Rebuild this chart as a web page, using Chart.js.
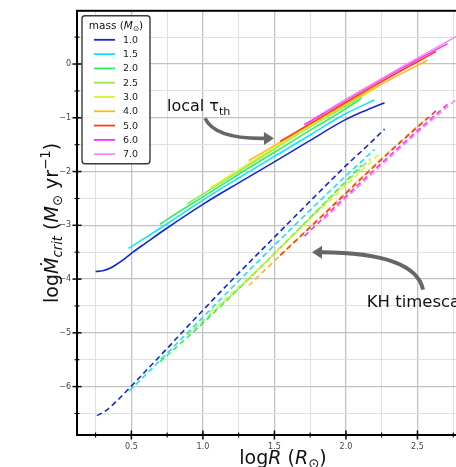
<!DOCTYPE html>
<html><head><meta charset="utf-8">
<script src="https://cdn.jsdelivr.net/npm/chart.js@4/dist/chart.umd.min.js"></script>
<style>html,body{margin:0;padding:0;overflow:hidden;background:#fff;width:456px;height:467px}canvas{display:block}</style>
</head><body>
<canvas id="c" width="500" height="467" style="width:500px;height:467px"></canvas>
<script>
// ---------------- data ----------------
const masses = ['1.0','1.5','2.0','2.5','3.0','4.0','5.0','6.0','7.0'];
const colors = ['#1428d0','#10e6f6','#2ef25a','#96e650','#dcf528','#ffb81e','#ff3c14','#ff2dff','#f58cf0'];

// local thermal timescale (solid lines): log R and log Mdot_crit
const thLogR_1_0 = [0.25,0.30,0.35,0.40,0.45,0.50,0.60,0.75,1.00,1.25,1.50,1.75,2.00,2.15,2.27];
const thLogM_1_0 = [-3.86,-3.845,-3.80,-3.72,-3.63,-3.52,-3.33,-3.05,-2.61,-2.21,-1.82,-1.42,-1.03,-0.85,-0.72];
const thLogR_1_5 = [0.48,0.60,0.75,1.00,1.25,1.50,1.75,2.00,2.20];
const thLogM_1_5 = [-3.43,-3.23,-2.97,-2.53,-2.12,-1.72,-1.32,-0.92,-0.67];
const thLogR_2_0 = [0.70,0.85,1.00,1.25,1.50,1.75,2.00,2.11];
const thLogM_2_0 = [-2.98,-2.72,-2.47,-2.05,-1.64,-1.23,-0.83,-0.63];
const thLogR_2_5 = [0.89,1.00,1.25,1.50,1.75,2.00,2.17];
const thLogM_2_5 = [-2.60,-2.42,-2.00,-1.58,-1.17,-0.78,-0.50];
const thLogR_3_0 = [1.05,1.25,1.50,1.75,2.00,2.23];
const thLogM_3_0 = [-2.31,-1.97,-1.55,-1.15,-0.75,-0.42];
const thLogR_4_0 = [1.32,1.60,2.00,2.30,2.57];
const thLogM_4_0 = [-1.80,-1.36,-0.74,-0.30,0.07];
const thLogR_5_0 = [1.54,1.80,2.00,2.30,2.63];
const thLogM_5_0 = [-1.44,-1.03,-0.71,-0.25,0.23];
const thLogR_6_0 = [1.71,2.00,2.30,2.71];
const thLogM_6_0 = [-1.13,-0.67,-0.21,0.38];
const thLogR_7_0 = [1.85,2.10,2.40,2.85];
const thLogM_7_0 = [-0.89,-0.50,-0.04,0.63];

// Kelvin-Helmholtz timescale (dashed lines)
const khLogR_1_0 = [0.26,0.32,0.39,0.46,0.50,0.75,1.00,1.25,1.50,1.75,2.00,2.15,2.27];
const khLogM_1_0 = [-6.54,-6.45,-6.29,-6.10,-5.99,-5.29,-4.58,-3.89,-3.22,-2.55,-1.89,-1.52,-1.21];
const khLogR_1_5 = [0.486,0.75,1.00,1.33,1.63,2.00,2.20];
const khLogM_1_5 = [-6.08,-5.38,-4.71,-3.82,-3.03,-2.08,-1.59];
const khLogR_2_0 = [0.70,1.00,1.40,1.80,2.11];
const khLogM_2_0 = [-5.54,-4.82,-3.79,-2.72,-1.88];
const khLogR_2_5 = [0.89,1.20,1.60,2.00,2.17];
const khLogM_2_5 = [-5.04,-4.30,-3.26,-2.20,-1.77];
const khLogR_3_0 = [1.05,1.40,1.80,2.23];
const khLogM_3_0 = [-4.62,-3.78,-2.76,-1.68];
const khLogR_4_0 = [1.32,1.80,2.20,2.57];
const khLogM_4_0 = [-4.12,-2.90,-1.88,-0.99];
const khLogR_5_0 = [1.54,1.90,2.30,2.63];
const khLogM_5_0 = [-3.56,-2.66,-1.65,-0.87];
const khLogR_6_0 = [1.71,2.10,2.45,2.71];
const khLogM_6_0 = [-3.20,-2.21,-1.36,-0.75];
const khLogR_7_0 = [1.85,2.20,2.55,2.85];
const khLogM_7_0 = [-2.88,-2.00,-1.16,-0.48];

// axes
const xMin = 0.12, xMax = 3.0, yMin = -6.9, yMax = 0.99;
const xTickVals = [0.25,0.5,0.75,1.0,1.25,1.5,1.75,2.0,2.25,2.5,2.75];
const xMajorVals = [0.5,1.0,1.5,2.0,2.5];
const xTickLabels = ['0.5','1.0','1.5','2.0','2.5'];
const yTickVals = [-6.5,-6,-5.5,-5,-4.5,-4,-3.5,-3,-2.5,-2,-1.5,-1,-0.5,0,0.5];
const yMajorVals = [-6,-5,-4,-3,-2,-1,0];
const yTickLabels = ['\u22126','\u22125','\u22124','\u22123','\u22122','\u22121','0'];

// annotations (data coordinates)
const thText = {x:0.749, y:-0.88};
const thArrow = {from:[1.015,-1.01], ctrl:[1.085,-1.40], tip:[1.497,-1.38]};
const khText = {x:2.145, y:-4.51};
const khArrow = {from:[2.539,-4.195], ctrl:[2.483,-3.51], tip:[1.763,-3.50]};

// ---------------- build ----------------
const thR = [thLogR_1_0,thLogR_1_5,thLogR_2_0,thLogR_2_5,thLogR_3_0,thLogR_4_0,thLogR_5_0,thLogR_6_0,thLogR_7_0];
const thM = [thLogM_1_0,thLogM_1_5,thLogM_2_0,thLogM_2_5,thLogM_3_0,thLogM_4_0,thLogM_5_0,thLogM_6_0,thLogM_7_0];
const khR = [khLogR_1_0,khLogR_1_5,khLogR_2_0,khLogR_2_5,khLogR_3_0,khLogR_4_0,khLogR_5_0,khLogR_6_0,khLogR_7_0];
const khM = [khLogM_1_0,khLogM_1_5,khLogM_2_0,khLogM_2_5,khLogM_3_0,khLogM_4_0,khLogM_5_0,khLogM_6_0,khLogM_7_0];

const FONT = "'DejaVu Sans', sans-serif";
const datasets = [];
masses.forEach((m,i)=>{
  datasets.push({label:m+' th', data: thR[i].map((v,j)=>({x:v,y:thM[i][j]})),
    borderColor:colors[i], borderWidth:1.6, pointRadius:0, fill:false,
    cubicInterpolationMode:'monotone', order:(8-i)*2+1});
  datasets.push({label:m+' KH', data: khR[i].map((v,j)=>({x:v,y:khM[i][j]})),
    borderColor:colors[i], borderWidth:1.6, borderDash:[5.5,3.5], pointRadius:0, fill:false,
    cubicInterpolationMode:'monotone', order:(8-i)*2});
});

const near = (a,b)=>Math.abs(a-b)<1e-6;
const isMajor = (arr,v)=>arr.some(a=>near(a,v));

function segFont(st,size){
  const small = (st==='sub'||st==='sup'||st==='isub');
  const it = (st==='i'||st==='isub') ? 'italic ' : '';
  return it + (small? size*0.7 : size) + 'px ' + FONT;
}
function richWidth(ctx,segs,size){let w=0;for(const [t,st] of segs){ctx.font=segFont(st,size);w+=ctx.measureText(t).width;}return w;}
function drawRich(ctx,segs,x,y,size,color){
  ctx.fillStyle=color;ctx.textBaseline='alphabetic';ctx.textAlign='left';
  let cx=x;
  for(const [t,st] of segs){
    ctx.font=segFont(st,size);
    let dy=0;
    if(st==='sub'||st==='isub') dy=size*0.22;
    if(st==='sup') dy=-size*0.42;
    ctx.fillText(t,cx,y+dy);
    cx+=ctx.measureText(t).width;
  }
}
function drawArrow(ctx,x,y,a,lw,color){
  const p0={x:x.getPixelForValue(a.from[0]),y:y.getPixelForValue(a.from[1])};
  const c={x:x.getPixelForValue(a.ctrl[0]),y:y.getPixelForValue(a.ctrl[1])};
  const t={x:x.getPixelForValue(a.tip[0]),y:y.getPixelForValue(a.tip[1])};
  const dx=t.x-c.x, dy=t.y-c.y, L=Math.hypot(dx,dy), ux=dx/L, uy=dy/L;
  const hl=10, hw=6.5;
  const bx=t.x-ux*hl, by=t.y-uy*hl;
  ctx.strokeStyle=color;ctx.lineWidth=lw;ctx.lineCap='butt';
  ctx.beginPath();ctx.moveTo(p0.x,p0.y);ctx.quadraticCurveTo(c.x,c.y,bx+ux*1,by+uy*1);ctx.stroke();
  ctx.fillStyle=color;ctx.beginPath();ctx.moveTo(t.x,t.y);
  ctx.lineTo(bx-uy*hw,by+ux*hw);ctx.lineTo(bx+uy*hw,by-ux*hw);ctx.closePath();ctx.fill();
}

const decor = {
  id:'decor',
  afterDraw(chart){
    const {ctx, chartArea:ca, scales:{x,y}} = chart;
    ctx.save();
    // spines
    ctx.strokeStyle='#000';ctx.lineWidth=2;
    ctx.strokeRect(ca.left,ca.top,ca.right-ca.left,ca.bottom-ca.top);
    // in-out ticks
    xTickVals.forEach(v=>{
      const px=x.getPixelForValue(v), L=isMajor(xMajorVals,v)?4.5:2.5;
      ctx.lineWidth=isMajor(xMajorVals,v)?1.5:1.1;
      ctx.beginPath();ctx.moveTo(px,ca.bottom-L);ctx.lineTo(px,ca.bottom+L);ctx.stroke();
    });
    yTickVals.forEach(v=>{
      const py=y.getPixelForValue(v), L=isMajor(yMajorVals,v)?4.5:2.5;
      ctx.lineWidth=isMajor(yMajorVals,v)?1.5:1.1;
      ctx.beginPath();ctx.moveTo(ca.left-L,py);ctx.lineTo(ca.left+L,py);ctx.stroke();
    });
    // legend
    const lx=ca.left+5, ly=ca.top+5, lw=68, lh=148;
    ctx.fillStyle='rgba(255,255,255,0.9)';ctx.strokeStyle='#3a3a3a';ctx.lineWidth=1.4;
    ctx.beginPath();ctx.roundRect(lx,ly,lw,lh,3);ctx.fill();ctx.stroke();
    const titleSegs=[['mass (','n'],['M','i'],['\u2299','sub'],[')','n']];
    const tw=richWidth(ctx,titleSegs,10.5);
    drawRich(ctx,titleSegs,lx+lw/2-tw/2,ly+13,10.5,'#111');
    masses.forEach((m,i)=>{
      const ry=ly+24+i*14.3;
      ctx.strokeStyle=colors[i];ctx.lineWidth=1.8;
      ctx.beginPath();ctx.moveTo(lx+12,ry);ctx.lineTo(lx+33,ry);ctx.stroke();
      ctx.fillStyle='#222';ctx.font='9.5px '+FONT;ctx.textBaseline='middle';ctx.textAlign='left';
      ctx.fillText(m,lx+41,ry+0.5);
    });
    // annotations
    drawArrow(ctx,x,y,thArrow,3.6,'#666666');
    drawArrow(ctx,x,y,khArrow,4,'#666666');
    drawRich(ctx,[['local \u03c4','n'],['th','sub']],x.getPixelForValue(thText.x),y.getPixelForValue(thText.y),16,'#111');
    drawRich(ctx,[['KH timescale','n']],x.getPixelForValue(khText.x),y.getPixelForValue(khText.y),16.5,'#111');
    // axis titles
    const xt=[['log','n'],['R','i'],[' (','n'],['R','i'],['\u2299','sub'],[')','n']];
    const xw=richWidth(ctx,xt,19);
    drawRich(ctx,xt,(ca.left+ca.right)/2-xw/2,464,19,'#111');
    const yt=[['log','n'],['\u1E40','i'],['crit','isub'],[' (','n'],['M','i'],['\u2299','sub'],[' yr','n'],['\u22121','sup'],[')','n']];
    const yw=richWidth(ctx,yt,19);
    ctx.save();ctx.translate(58,(ca.top+ca.bottom)/2);ctx.rotate(-Math.PI/2);
    drawRich(ctx,yt,-yw/2,0,19,'#111');
    ctx.restore();
    ctx.restore();
  }
};

new Chart(document.getElementById('c'),{
  type:'line',
  data:{datasets},
  options:{
    responsive:false, animation:false, devicePixelRatio:1,
    layout:{padding:{left:0,top:9,right:11,bottom:0}},
    plugins:{legend:{display:false},tooltip:{enabled:false}},
    scales:{
      x:{type:'linear',min:xMin,max:xMax,
        afterBuildTicks:s=>{s.ticks=xTickVals.map(v=>({value:v}));},
        afterFit:s=>{s.height=32;},
        border:{display:false},
        grid:{drawTicks:false,color:c=>isMajor(xMajorVals,c.tick.value)?'#c2c2c2':'#e0e0e0',lineWidth:c=>isMajor(xMajorVals,c.tick.value)?1.3:1},
        ticks:{autoSkip:false,maxRotation:0,padding:7,color:'#444',font:{family:'DejaVu Sans',size:8},
          callback:v=>{const k=xMajorVals.findIndex(a=>near(a,v));return k>=0?xTickLabels[k]:'';}}
      },
      y:{type:'linear',min:yMin,max:yMax,
        afterBuildTicks:s=>{s.ticks=yTickVals.map(v=>({value:v}));},
        afterFit:s=>{s.width=77;},
        border:{display:false},
        grid:{drawTicks:false,color:c=>isMajor(yMajorVals,c.tick.value)?'#c2c2c2':'#e0e0e0',lineWidth:c=>isMajor(yMajorVals,c.tick.value)?1.3:1},
        ticks:{autoSkip:false,padding:6,color:'#444',font:{family:'DejaVu Sans',size:8},
          callback:v=>{const k=yMajorVals.findIndex(a=>near(a,v));return k>=0?yTickLabels[k]:'';}}
      }
    }
  },
  plugins:[decor]
});
</script>
</body></html>
